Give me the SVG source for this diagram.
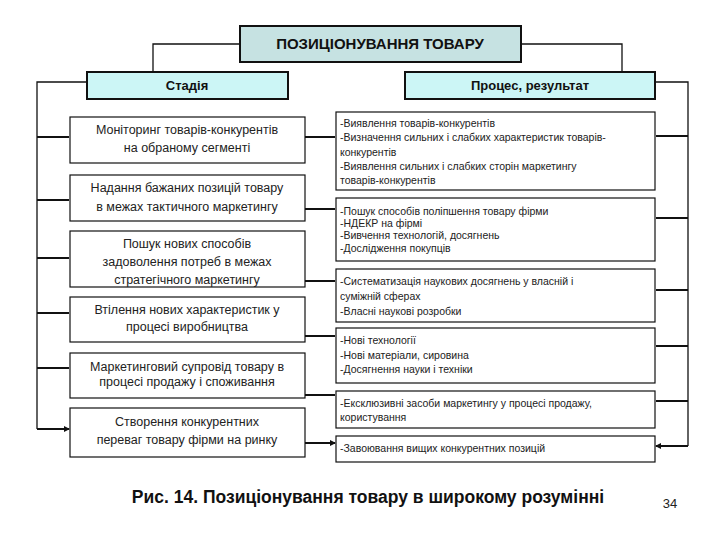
<svg xmlns="http://www.w3.org/2000/svg" width="720" height="540" viewBox="0 0 720 540">
<style>
.b{fill:#fff;stroke:#111;stroke-width:1.2}
.l{font-family:"Liberation Sans",Arial,sans-serif;font-size:12.5px;fill:#222;text-anchor:middle}
.r{font-family:"Liberation Sans",Arial,sans-serif;font-size:10.5px;fill:#222}
.c{fill:none;stroke:#111;stroke-width:1.3}
.a{fill:none;stroke:#111;stroke-width:2;marker-end:url(#ar)}
</style>
<defs><marker id="ar" markerWidth="6" markerHeight="6" refX="5" refY="3" orient="auto" markerUnits="userSpaceOnUse"><path d="M0,0L6,3L0,6z" fill="#111"/></marker></defs>
<rect width="720" height="540" fill="#fff"/>
<g id="connectors">
<path class="c" d="M240,44H153V72M521,44H622V72"/>
<path class="c" d="M87,82H37V429M655,82H688V446"/>
<path class="a" d="M37,137H69M37,200H69M37,258H69M37,313H69M37,368H69M37,429H69"/>
<path class="a" d="M688,136H656M688,218H656M688,290H656M688,346H656M688,401H656M688,446H656"/>
<path class="a" d="M305,137H335M305,209H335M305,281H335M305,336H335M305,395H335M305,443H335"/>
</g>
<g id="title"><rect x="240" y="26" width="281" height="36" fill="#c6e2e2" stroke="#111" stroke-width="2"/><text x="380" y="49" font-family="Liberation Sans,Arial,sans-serif" font-size="15" font-weight="bold" text-anchor="middle" fill="#111">ПОЗИЦІОНУВАННЯ ТОВАРУ</text></g>
<g id="stage"><rect x="87" y="72" width="201" height="27" fill="#ccf6f6" stroke="#111" stroke-width="2"/><text x="187" y="90" font-family="Liberation Sans,Arial,sans-serif" font-size="13" font-weight="bold" text-anchor="middle" fill="#111">Стадія</text></g>
<g id="process"><rect x="405" y="72" width="250" height="27" fill="#ccf6f6" stroke="#111" stroke-width="2"/><text x="530" y="90" font-family="Liberation Sans,Arial,sans-serif" font-size="13" font-weight="bold" text-anchor="middle" fill="#111">Процес, результат</text></g>
<g id="s1"><rect class="b" x="70" y="117" width="235" height="46"/><text class="l" x="187" y="134">Моніторинг товарів-конкурентів</text><text class="l" x="187" y="152">на обраному сегменті</text></g>
<g id="s2"><rect class="b" x="70" y="175" width="235" height="46"/><text class="l" x="187" y="192">Надання бажаних позицій товару</text><text class="l" x="187" y="211">в межах тактичного маркетингу</text></g>
<g id="s3"><rect class="b" x="70" y="231" width="235" height="56"/><text class="l" x="187" y="248">Пошук нових способів</text><text class="l" x="187" y="266">задоволення потреб в межах</text><text class="l" x="187" y="284">стратегічного маркетингу</text></g>
<g id="s4"><rect class="b" x="70" y="297" width="235" height="45"/><text class="l" x="187" y="314">Втілення нових характеристик у</text><text class="l" x="187" y="331">процесі виробництва</text></g>
<g id="s5"><rect class="b" x="70" y="353" width="235" height="45"/><text class="l" x="187" y="371">Маркетинговий супровід товару в</text><text class="l" x="187" y="386">процесі продажу і споживання</text></g>
<g id="s6"><rect class="b" x="70" y="408" width="235" height="49"/><text class="l" x="187" y="426">Створення конкурентних</text><text class="l" x="187" y="444">переваг товару фірми на ринку</text></g>
<g id="p1"><rect class="b" x="336" y="112" width="319" height="78"/><text class="r" x="340" y="127">-Виявлення товарів-конкурентів</text><text class="r" x="340" y="141">-Визначення сильних і слабких характеристик товарів-</text><text class="r" x="340" y="156">конкурентів</text><text class="r" x="340" y="170">-Виявлення сильних і слабких сторін маркетингу</text><text class="r" x="340" y="184">товарів-конкурентів</text></g>
<g id="p2"><rect class="b" x="336" y="198" width="319" height="63"/><text class="r" x="340" y="215">-Пошук способів поліпшення товару фірми</text><text class="r" x="340" y="227">-НДЕКР на фірмі</text><text class="r" x="340" y="239">-Вивчення технологій, досягнень</text><text class="r" x="340" y="252">-Дослідження покупців</text></g>
<g id="p3"><rect class="b" x="336" y="269" width="319" height="53"/><text class="r" x="340" y="285">-Систематизація наукових досягнень у власній і</text><text class="r" x="340" y="300">суміжній сферах</text><text class="r" x="340" y="315">-Власні наукові розробки</text></g>
<g id="p4"><rect class="b" x="336" y="328" width="319" height="55"/><text class="r" x="340" y="344">-Нові технології</text><text class="r" x="340" y="359">-Нові матеріали, сировина</text><text class="r" x="340" y="373">-Досягнення науки і техніки</text></g>
<g id="p5"><rect class="b" x="336" y="391" width="319" height="37"/><text class="r" x="340" y="407">-Ексклюзивні засоби маркетингу у процесі продажу,</text><text class="r" x="340" y="421">користування</text></g>
<g id="p6"><rect class="b" x="336" y="436" width="319" height="26"/><text class="r" x="340" y="452">-Завоювання вищих конкурентних позицій</text></g>
<text x="368" y="503" font-family="Liberation Sans,Arial,sans-serif" font-size="17.5" font-weight="bold" text-anchor="middle" fill="#111">Рис. 14. Позиціонування товару в широкому розумінні</text>
<text x="670" y="508" font-family="Liberation Sans,Arial,sans-serif" font-size="13" text-anchor="middle" fill="#222">34</text>
</svg>
